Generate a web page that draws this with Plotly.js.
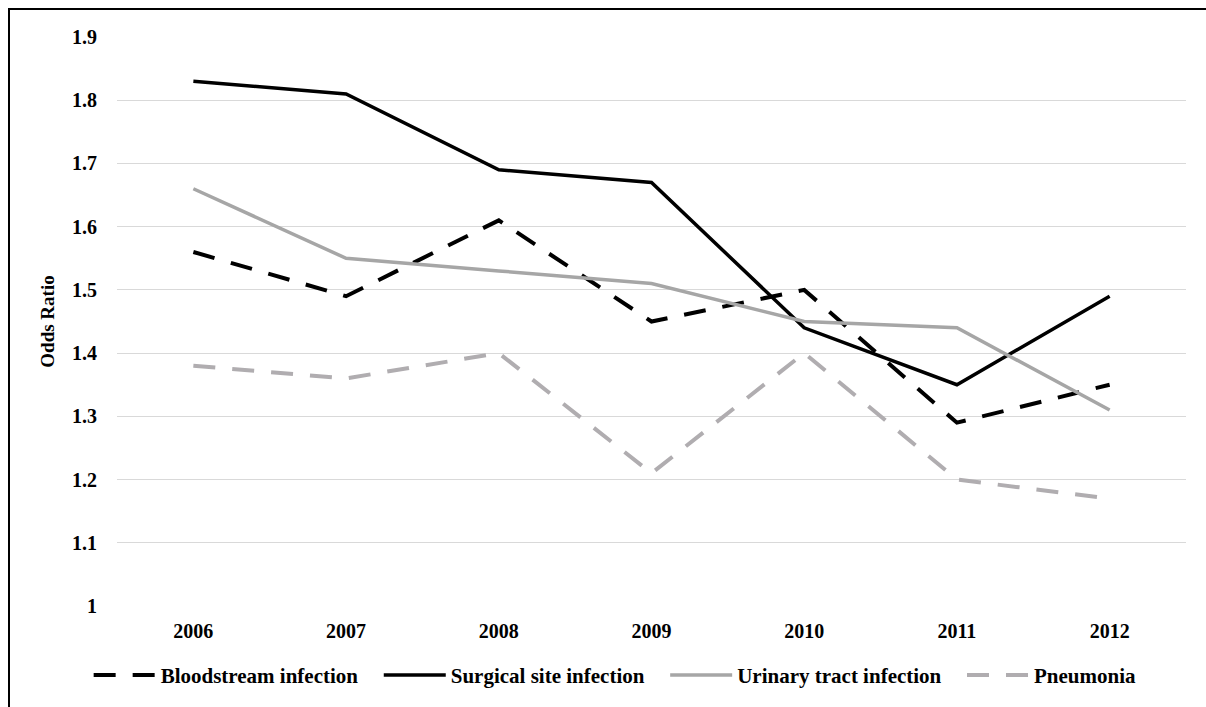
<!DOCTYPE html>
<html>
<head>
<meta charset="utf-8">
<script src="https://cdn.plot.ly/plotly-3.0.1.min.js"></script>
<style>
html,body{margin:0;padding:0;background:#fff;overflow:hidden;}
#wrap{position:relative;width:1206px;height:707px;}
#chart{position:absolute;left:0;top:0;width:1206px;height:707px;}
#frame{position:absolute;left:8px;top:8px;width:1300px;height:800px;border-top:2px solid #000;border-left:2px solid #000;pointer-events:none;}
</style>
</head>
<body>
<div id="wrap"><div id="chart"></div><div id="frame"></div></div>
<script>
const years = ['2006','2007','2008','2009','2010','2011','2012'];
const bloodstream = [1.56, 1.49, 1.61, 1.45, 1.50, 1.29, 1.35];
const surgical = [1.83, 1.81, 1.69, 1.67, 1.44, 1.35, 1.49];
const urinary = [1.66, 1.55, 1.53, 1.51, 1.45, 1.44, 1.31];
const pneumonia = [1.38, 1.36, 1.40, 1.21, 1.40, 1.20, 1.17];
const seriesNames = ['Bloodstream infection','Surgical site infection','Urinary tract infection','Pneumonia'];
const yTicks = [1, 1.1, 1.2, 1.3, 1.4, 1.5, 1.6, 1.7, 1.8, 1.9];
const yTickText = ['1','1.1','1.2','1.3','1.4','1.5','1.6','1.7','1.8','1.9'];

const fam = '"Liberation Serif", "Times New Roman", serif';
const pad = '\u00a0\u00a0\u00a0';
const traces = [
  {x:years, y:bloodstream, name:seriesNames[0] + pad, mode:'lines', line:{color:'#000000', width:4, dash:'22px,17px'}},
  {x:years, y:surgical, name:seriesNames[1] + pad, mode:'lines', line:{color:'#000000', width:3.5}},
  {x:years, y:urinary, name:seriesNames[2] + pad, mode:'lines', line:{color:'#a6a6a6', width:3.5}},
  {x:years, y:pneumonia, name:seriesNames[3], mode:'lines', line:{color:'#b0adb0', width:4, dash:'22px,17px'}}
];
const layout = {
  width:1206, height:707,
  margin:{l:117, r:20, t:37, b:100},
  paper_bgcolor:'#fff', plot_bgcolor:'#fff',
  font:{family:fam, size:18, color:'#000'},
  showlegend:true,
  legend:{orientation:'h', x:0.466, xanchor:'center', y:-0.12, yanchor:'middle', font:{family:fam, size:21, color:'#000', weight:'bold'}, itemwidth:62, tracegroupgap:0},
  xaxis:{type:'category', range:[-0.5,6.5], showgrid:false, zeroline:false, showline:false, ticks:'', tickfont:{family:fam, size:20, color:'#000', weight:'bold'}, ticklabelstandoff:11},
  yaxis:{range:[1,1.9], tickvals:yTicks, ticktext:yTickText, showgrid:true, gridcolor:'#d9d9d9', gridwidth:1, zeroline:false, showline:false, ticks:'', tickfont:{family:fam, size:20, color:'#000', weight:'bold'}, ticklabelstandoff:19,
    title:{text:'Odds Ratio', font:{family:fam, size:19, color:'#000', weight:'bold'}, standoff:12}}
};
Plotly.newPlot('chart', traces, layout, {displayModeBar:false, staticPlot:true});
</script>
</body>
</html>
